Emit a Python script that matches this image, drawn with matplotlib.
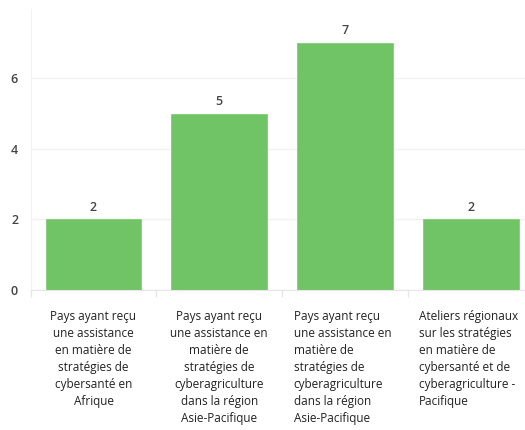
import numpy as np
from matplotlib import pyplot as plt
from matplotlib import transforms

categories = [
    "Pays ayant reçu\nune assistance\nen matière de\nstratégies de\ncybersanté en\nAfrique",
    "Pays ayant reçu\nune assistance en\nmatière de\nstratégies de\ncyberagriculture\ndans la région\nAsie-Pacifique",
    "Pays ayant reçu\nune assistance en\nmatière de\nstratégies de\ncyberagriculture\ndans la région\nAsie-Pacifique",
    "Ateliers régionaux\nsur les stratégies\nen matière de\ncybersanté et de\ncyberagriculture -\nPacifique",
]
values = [2, 5, 7, 2]
yticks = [0, 2, 4, 6]

plt.rcParams['font.family'] = ['Open Sans', 'DejaVu Sans']

fig = plt.figure(figsize=(5.25, 4.3), dpi=100)
W, H = 525, 430
left, right = 30.6, 533.8
y0, ppu = 290, 35.3
ymax = 7.95
ax = fig.add_axes([left / W, (H - y0) / H, (right - left) / W, ymax * ppu / H])

xpos = np.arange(len(values))
bars = ax.bar(xpos, values, 0.76, color='#70c466', edgecolor='#7fcf74', linewidth=0.6, zorder=2)
ax.set_xlim(-0.5, len(values) - 0.5)
ax.set_ylim(0, ymax)

for x, v in zip(xpos, values):
    ax.annotate(str(v), (x, v), xytext=(0, 4), textcoords='offset points',
                ha='center', va='bottom', fontsize=9, fontweight='semibold', color='#444444')

ax.set_yticks(yticks)
ax.set_yticklabels([str(t) for t in yticks], fontsize=9, fontweight='semibold', color='#444444')
ax.tick_params(axis='y', length=0, pad=9)
ax.grid(axis='y', color='#f2f2f2', linewidth=1, zorder=0)

ax.set_xticks(np.arange(len(values) + 1) - 0.5)
ax.set_xticklabels([])
ax.tick_params(axis='x', length=5, color='#e6e6e6', width=1)

for s in ['top', 'right']:
    ax.spines[s].set_visible(False)
ax.spines['left'].set_color('#f2f2f2')
ax.spines['bottom'].set_color('#e6e6e6')

trans = transforms.blended_transform_factory(ax.transData, ax.transAxes)
aligns = ['center', 'center', 'left', 'left']
for i, (lab, ha) in enumerate(zip(categories, aligns)):
    x = i if ha == 'center' else i - 0.41
    ax.text(x, -0.07, lab, transform=trans, ha=ha, va='top', multialignment=ha,
            fontsize=8.5, color='#222222', linespacing=1.4, clip_on=False)

fig.savefig('out.png', dpi=100)
